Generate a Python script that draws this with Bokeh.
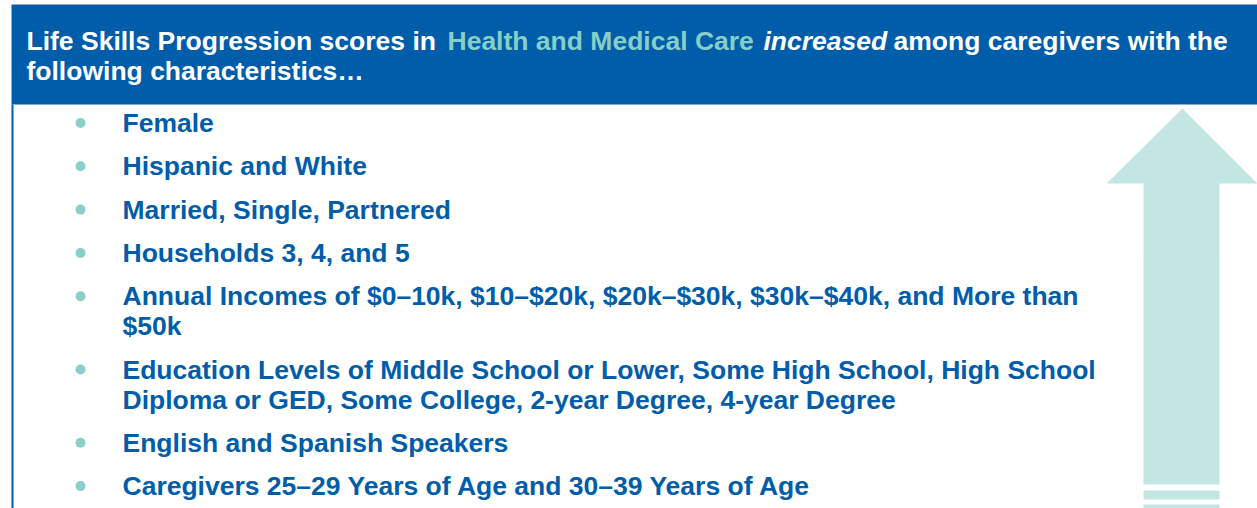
from bokeh.plotting import figure
from bokeh.models import Range1d
from bokeh.core.properties import value
from bokeh.embed import file_html
from bokeh.resources import INLINE

# ---- content ----
header_line1 = ["Life Skills Progression scores in", "Health and Medical Care", "increased",
                "among caregivers with the"]
header_line1_kind = ["plain", "accent", "italic", "plain"]
header_line2 = "following characteristics\u2026"

items = [
    ["Female"],
    ["Hispanic and White"],
    ["Married, Single, Partnered"],
    ["Households 3, 4, and 5"],
    ["Annual Incomes of $0\u201310k, $10\u2013$20k, $20k\u2013$30k, $30k\u2013$40k, and More than", "$50k"],
    ["Education Levels of Middle School or Lower, Some High School, High School",
     "Diploma or GED, Some College, 2-year Degree, 4-year Degree"],
    ["English and Spanish Speakers"],
    ["Caregivers 25\u201329 Years of Age and 30\u201339 Years of Age"],
]

# ---- style / layout ----
BLUE = "#005DAA"
TEAL_TEXT = "#86CEC6"
TEAL_DOT = "#8CCFC9"
ARROW = "#C4E6E3"
FONT = value("Liberation Sans")
FS = value("26.5px")

W, H = 1257, 508
p = figure(width=W, height=H, output_backend="svg", toolbar_location=None,
           x_range=Range1d(0, W), y_range=Range1d(H, 0),
           min_border=0, outline_line_color=None)
p.axis.visible = False
p.grid.visible = False
p.background_fill_color = "white"
p.border_fill_color = "white"

# header box
p.quad(left=[11], right=[1260], top=[4], bottom=[104], fill_color=BLUE, line_color=None)
# left rule
p.quad(left=[11], right=[13], top=[104], bottom=[520], fill_color=BLUE, line_color=None)

# header text
seg_x = [26, 447, 763, 893]
for txt, kind, x in zip(header_line1, header_line1_kind, seg_x):
    p.text(x=[x], y=[40], text=[txt], text_font=FONT, text_font_size=FS,
           text_font_style="bold italic" if kind == "italic" else "bold",
           text_color=TEAL_TEXT if kind == "accent" else "white",
           text_baseline="middle", text_align="left")
p.text(x=[26], y=[70], text=[header_line2], text_font=FONT, text_font_size=FS,
       text_font_style="bold", text_color="white", text_baseline="middle")

# arrow
ax = [1182, 1257, 1219, 1219, 1143, 1143, 1106]
ay = [108, 183, 183, 484, 484, 183, 183]
p.patch(ax, ay, fill_color=ARROW, line_color=None)
p.quad(left=[1143, 1143], right=[1219, 1219], top=[490, 504], bottom=[499, 520],
       fill_color=ARROW, line_color=None)

# bullet items
bx, by = [], []
wrapped = 0
for i, lines in enumerate(items):
    mid = 122.5 + 43.3 * i + 30 * wrapped
    bx.append(80)
    by.append(mid)
    for j, ln in enumerate(lines):
        p.text(x=[122], y=[mid + 30 * j], text=[ln], text_font=FONT, text_font_size=FS,
               text_font_style="bold", text_color=BLUE, text_baseline="middle")
    wrapped += len(lines) - 1

p.scatter(x=bx, y=by, size=10, fill_color=TEAL_DOT, line_color=None)

open("out.html", "w").write(file_html(p, INLINE))
